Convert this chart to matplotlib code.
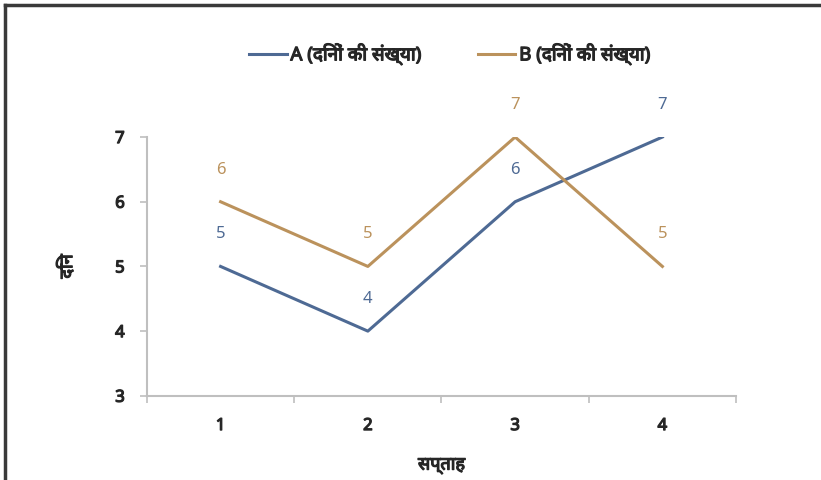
import matplotlib.pyplot as plt
import matplotlib.patheffects as pe
from matplotlib.lines import Line2D

weeks = ['1', '2', '3', '4']
days_a = [5, 4, 6, 7]
days_b = [6, 5, 7, 5]
label_a = 'A (दिनों की संख्या)'
label_b = 'B (दिनों की संख्या)'
yticks = [3, 4, 5, 6, 7]

color_a = '#4e6a94'
color_b = '#bb925c'
axis_grey = '#bfbfbf'
text_grey = '#262626'

plt.rcParams['font.family'] = ['Noto Sans', 'DejaVu Sans']

# fake bold, the Devanagari face has only a regular weight
bold = [pe.withStroke(linewidth=0.9, foreground=text_grey)]

fig = plt.figure(figsize=(8.21, 4.81), dpi=100)
ax = fig.add_axes([0.179, 0.175, 0.7175, 0.538])

x = range(len(weeks))
ax.plot(x, days_a, color=color_a, lw=2.2, label=label_a)
ax.plot(x, days_b, color=color_b, lw=2.2, label=label_b)

# data labels above each point
for i, v in enumerate(days_a):
    ax.annotate(str(v), (i, v), xytext=(0, 18), textcoords='offset points',
                ha='center', va='bottom', color=color_a, fontsize=12)
for i, v in enumerate(days_b):
    ax.annotate(str(v), (i, v), xytext=(0, 18), textcoords='offset points',
                ha='center', va='bottom', color=color_b, fontsize=12)

ax.set_xlim(-0.5, len(weeks) - 0.5)
ax.set_ylim(3, 7)
ax.set_yticks(yticks)
ax.set_xticks(x)
ax.set_xticklabels(weeks)
# category separators as minor ticks
ax.set_xticks([i - 0.5 for i in range(len(weeks) + 1)], minor=True)
ax.tick_params(axis='x', which='major', length=0, pad=16)
ax.tick_params(axis='x', which='minor', length=5, color=axis_grey, width=1.2)
ax.tick_params(axis='y', length=5, color=axis_grey, width=1.2, pad=11)
for lab in ax.get_xticklabels() + ax.get_yticklabels():
    lab.set_fontsize(12)
    lab.set_color(text_grey)
    lab.set_path_effects(bold)

for s in ['top', 'right']:
    ax.spines[s].set_visible(False)
for s in ['left', 'bottom']:
    ax.spines[s].set_color(axis_grey)
    ax.spines[s].set_linewidth(1.5)

ax.set_xlabel('सप्ताह', fontsize=13, color=text_grey, labelpad=16, path_effects=bold)
ax.set_ylabel('दिन', fontsize=13, color=text_grey, labelpad=28, path_effects=bold)

leg = fig.legend(loc='center', bbox_to_anchor=(0.548, 0.885), ncol=2, frameon=False,
                 handlelength=2.0, handletextpad=0.2, columnspacing=3.0,
                 prop={'size': 13.5})
for t in leg.get_texts():
    t.set_color(text_grey)
    t.set_path_effects(bold)

# picture border on top and left
fig.add_artist(Line2D([0.006, 1.0], [0.987, 0.987], color='#3a3a3a', lw=2.5))
fig.add_artist(Line2D([0.006, 0.006], [0.0, 0.987], color='#3a3a3a', lw=2.5))

fig.savefig('out.png', dpi=100)
